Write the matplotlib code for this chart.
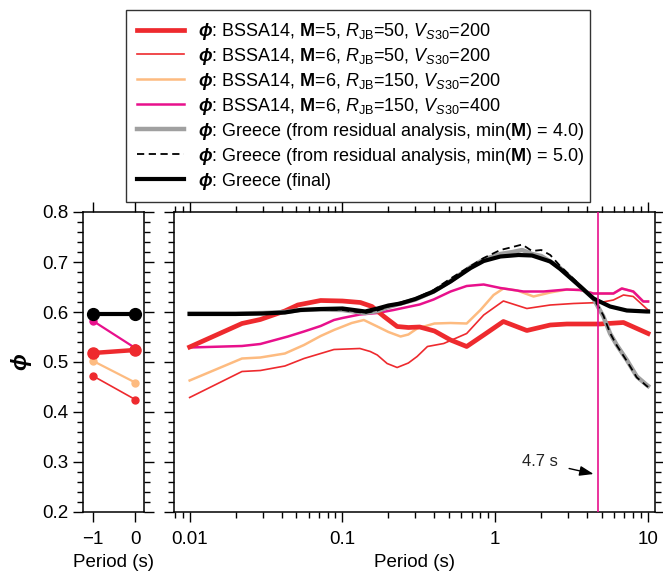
import numpy as np
import matplotlib
matplotlib.use("Agg")
import matplotlib.pyplot as plt
from matplotlib.ticker import MultipleLocator, LogLocator, NullFormatter

plt.rcParams["font.family"] = ["Liberation Sans", "DejaVu Sans"]
plt.rcParams["mathtext.fontset"] = "custom"
plt.rcParams["mathtext.rm"] = "Liberation Sans"
plt.rcParams["mathtext.it"] = "Liberation Sans:italic"
plt.rcParams["mathtext.bf"] = "Liberation Sans:bold"
plt.rcParams["mathtext.bfit"] = "Liberation Sans:italic:bold"

# ====== left panel: PGV (-1) and PGA (0) ======
x_left = [-1, 0]
left_m5_r50_v200 = [0.518, 0.524]
left_m6_r50_v200 = [0.472, 0.425]
left_m6_r150_v200 = [0.502, 0.459]
left_m6_r150_v400 = [0.582, 0.528]
left_greece_final = [0.597, 0.597]

# ====== right panel: spectral periods ======
T_m5_r50_v200 = [0.01, 0.022, 0.029, 0.042, 0.051, 0.072, 0.10, 0.131, 0.156, 0.187,
                 0.228, 0.27, 0.32, 0.40, 0.51, 0.65, 0.84, 1.13, 1.61, 2.29, 2.94,
                 4.86, 6.9, 10]
phi_m5_r50_v200 = [0.530, 0.577, 0.585, 0.602, 0.614, 0.623, 0.622, 0.619, 0.611, 0.591,
                   0.571, 0.569, 0.570, 0.562, 0.544, 0.531, 0.554, 0.581, 0.563, 0.574,
                   0.576, 0.576, 0.579, 0.557]

T_m6_r50_v200 = [0.01, 0.022, 0.029, 0.042, 0.056, 0.072, 0.088, 0.13, 0.152, 0.169,
                 0.196, 0.228, 0.27, 0.308, 0.36, 0.46, 0.65, 0.84, 1.13, 1.61, 2.29,
                 3.25, 4.86, 5.93, 6.9, 8.0, 10]
phi_m6_r50_v200 = [0.429, 0.481, 0.483, 0.492, 0.507, 0.517, 0.525, 0.527, 0.521, 0.514,
                   0.497, 0.489, 0.498, 0.511, 0.531, 0.537, 0.557, 0.594, 0.622, 0.607,
                   0.614, 0.617, 0.619, 0.624, 0.634, 0.631, 0.604]

T_m6_r150_v200 = [0.01, 0.022, 0.029, 0.042, 0.056, 0.072, 0.088, 0.115, 0.138, 0.169,
                  0.20, 0.24, 0.27, 0.308, 0.40, 0.51, 0.65, 0.80, 0.975, 1.13, 1.39,
                  1.78, 2.29, 2.94, 3.59, 4.39, 5.93, 6.73, 8.0, 9.3, 10]
phi_m6_r150_v200 = [0.463, 0.507, 0.509, 0.517, 0.534, 0.552, 0.564, 0.578, 0.584, 0.571,
                    0.560, 0.551, 0.555, 0.567, 0.577, 0.578, 0.577, 0.604, 0.634, 0.647,
                    0.643, 0.631, 0.639, 0.645, 0.644, 0.637, 0.637, 0.647, 0.641, 0.621,
                    0.621]

T_m6_r150_v400 = [0.01, 0.022, 0.029, 0.044, 0.056, 0.072, 0.088, 0.10, 0.13, 0.169,
                  0.216, 0.24, 0.32, 0.395, 0.51, 0.65, 0.84, 1.08, 1.53, 2.07, 2.94,
                  3.59, 4.39, 5.93, 6.73, 8.0, 9.3, 10]
phi_m6_r150_v400 = [0.529, 0.532, 0.536, 0.551, 0.561, 0.572, 0.584, 0.588, 0.595, 0.598,
                    0.604, 0.607, 0.615, 0.625, 0.641, 0.652, 0.655, 0.648, 0.641, 0.641,
                    0.645, 0.644, 0.637, 0.637, 0.647, 0.641, 0.621, 0.621]

T_greece = [0.01, 0.02, 0.03, 0.042, 0.053, 0.072, 0.10, 0.141, 0.17, 0.20, 0.24, 0.30,
            0.395, 0.51, 0.69, 0.84, 1.08, 1.3, 1.5, 1.74, 2.0, 2.29, 2.66, 3.42, 4.39,
            5.1, 5.64, 6.24, 7.26, 8.44, 9.8, 10]
phi_greece_m4 = [0.597, 0.597, 0.598, 0.600, 0.604, 0.605, 0.604, 0.598, 0.602, 0.610,
                 0.617, 0.625, 0.641, 0.662, 0.690, 0.705, 0.716, 0.720, 0.724, 0.716,
                 0.712, 0.701, 0.688, 0.657, 0.627, 0.591, 0.557, 0.534, 0.504, 0.471,
                 0.454, 0.452]
phi_greece_m5 = [0.597, 0.597, 0.598, 0.600, 0.604, 0.605, 0.604, 0.598, 0.603, 0.611,
                 0.619, 0.627, 0.644, 0.667, 0.692, 0.708, 0.724, 0.730, 0.735, 0.722,
                 0.724, 0.714, 0.692, 0.660, 0.628, 0.593, 0.558, 0.533, 0.502, 0.469,
                 0.452, 0.450]

T_final = [0.01, 0.02, 0.03, 0.042, 0.053, 0.072, 0.10, 0.141, 0.17, 0.20, 0.24, 0.30,
           0.395, 0.51, 0.69, 0.84, 1.08, 1.42, 1.74, 2.29, 2.66, 3.42, 4.39, 5.64, 7.26,
           9.8, 10]
phi_final = [0.596, 0.596, 0.597, 0.599, 0.604, 0.606, 0.607, 0.601, 0.607, 0.613, 0.617,
             0.626, 0.641, 0.661, 0.688, 0.702, 0.711, 0.714, 0.713, 0.701, 0.686, 0.657,
             0.627, 0.611, 0.603, 0.601, 0.601]

T_cut = 4.7

labels = [
    r"$\boldsymbol{\phi}$: BSSA14, $\mathbf{M}$=5, $R_{\mathrm{JB}}$=50, $V_{S30}$=200",
    r"$\boldsymbol{\phi}$: BSSA14, $\mathbf{M}$=6, $R_{\mathrm{JB}}$=50, $V_{S30}$=200",
    r"$\boldsymbol{\phi}$: BSSA14, $\mathbf{M}$=6, $R_{\mathrm{JB}}$=150, $V_{S30}$=200",
    r"$\boldsymbol{\phi}$: BSSA14, $\mathbf{M}$=6, $R_{\mathrm{JB}}$=150, $V_{S30}$=400",
    r"$\boldsymbol{\phi}$: Greece (from residual analysis, min($\mathbf{M}$) = 4.0)",
    r"$\boldsymbol{\phi}$: Greece (from residual analysis, min($\mathbf{M}$) = 5.0)",
    r"$\boldsymbol{\phi}$: Greece (final)",
]

RED = "#ee2a2e"
ORANGE = "#fdbb80"
MAGENTA = "#e8108c"
GRAY = "#a0a0a0"
FS = 13.5

fig = plt.figure(figsize=(6.63, 5.73), dpi=100)
ax_l = fig.add_axes([83 / 663, 61 / 573, 61 / 663, 300 / 573])
ax_r = fig.add_axes([174 / 663, 61 / 573, 481 / 663, 300 / 573])

# ---- left panel ----
ax_l.plot(x_left, left_m6_r150_v200, color=ORANGE, lw=1.6, marker="o", ms=5, zorder=2)
ax_l.plot(x_left, left_m6_r50_v200, color=RED, lw=1.2, marker="o", ms=5, zorder=2)
ax_l.plot(x_left, left_m6_r150_v400, color=MAGENTA, lw=1.6, marker="o", ms=5, zorder=3)
ax_l.plot(x_left, left_m5_r50_v200, color=RED, lw=3.2, marker="o", ms=8, zorder=4)
ax_l.plot(x_left, left_greece_final, color="black", lw=3.0, marker="o", ms=8.5, zorder=5)

ax_l.set_xlim(-1.24, 0.21)
ax_l.set_xticks([-1, 0])
ax_l.set_xticklabels(["\u22121", "0"])
ax_l.yaxis.set_minor_locator(MultipleLocator(0.02))
ax_l.set_yticks(np.round(np.arange(0.2, 0.81, 0.1), 1))
ax_l.set_yticklabels([f"{v:.1f}" for v in np.arange(0.2, 0.81, 0.1)])
ax_l.set_ylim(0.2, 0.8)
ax_l.tick_params(which="both", direction="out", left=True, right=True, top=True,
                 bottom=True, labelsize=FS, width=1.0)
ax_l.tick_params(which="major", length=7)
ax_l.tick_params(which="minor", length=4)
ax_l.tick_params(axis="x", pad=7)
ax_l.set_xlabel("Period (s)", fontsize=FS, labelpad=4)
ax_l.set_ylabel(r"$\boldsymbol{\phi}$", fontsize=16, labelpad=6)

# ---- right panel ----
h1, = ax_r.plot(T_m5_r50_v200, phi_m5_r50_v200, color=RED, lw=3.4, zorder=4)
h2, = ax_r.plot(T_m6_r50_v200, phi_m6_r50_v200, color=RED, lw=1.2, zorder=2)
h3, = ax_r.plot(T_m6_r150_v200, phi_m6_r150_v200, color=ORANGE, lw=1.8, zorder=2)
h4, = ax_r.plot(T_m6_r150_v400, phi_m6_r150_v400, color=MAGENTA, lw=1.8, zorder=3)
h5, = ax_r.plot(T_greece, phi_greece_m4, color=GRAY, lw=3.2, zorder=5)
h6, = ax_r.plot(T_greece, phi_greece_m5, color="black", lw=1.3, ls=(0, (4, 2.5)), zorder=6)
h7, = ax_r.plot(T_final, phi_final, color="black", lw=3.0, zorder=7)

ax_r.axvline(T_cut, color=MAGENTA, lw=1.2, zorder=8)
ax_r.annotate(f"{T_cut} s", xy=(4.4, 0.276), xytext=(1.97, 0.300),
              ha="center", va="center", fontsize=12, color="#222222",
              arrowprops=dict(arrowstyle="-|>,head_length=0.7,head_width=0.25",
                              color="black", lw=1.0, shrinkA=6, shrinkB=0))

ax_r.set_xscale("log")
ax_r.set_xlim(0.0079, 11.1)
ax_r.set_ylim(0.2, 0.8)
ax_r.set_xticks([0.01, 0.1, 1, 10])
ax_r.set_xticklabels(["0.01", "0.1", "1", "10"])
ax_r.xaxis.set_minor_locator(LogLocator(base=10, subs=np.arange(2, 10)))
ax_r.xaxis.set_minor_formatter(NullFormatter())
ax_r.yaxis.set_major_locator(MultipleLocator(0.1))
ax_r.yaxis.set_minor_locator(MultipleLocator(0.02))
ax_r.tick_params(which="both", direction="out", left=True, right=True, top=True,
                 bottom=True, labelleft=False, labelsize=FS, width=1.0)
ax_r.tick_params(which="major", length=7)
ax_r.tick_params(which="minor", length=4)
ax_r.tick_params(axis="x", pad=7)
ax_r.set_xlabel("Period (s)", fontsize=FS, labelpad=4)

for ax in (ax_l, ax_r):
    for sp in ax.spines.values():
        sp.set_linewidth(1.1)

leg = fig.legend([h1, h2, h3, h4, h5, h6, h7], labels, loc="upper left",
                 bbox_to_anchor=(126 / 663, 1 - 198 / 573, 464 / 663, 188 / 573),
                 mode="expand", borderaxespad=0,
                 fontsize=13, frameon=True, fancybox=False, edgecolor="black",
                 handlelength=2.6, handletextpad=0.8, labelspacing=0.22, borderpad=0.6)
leg.get_frame().set_linewidth(1.0)

fig.savefig("out.png", dpi=100)
